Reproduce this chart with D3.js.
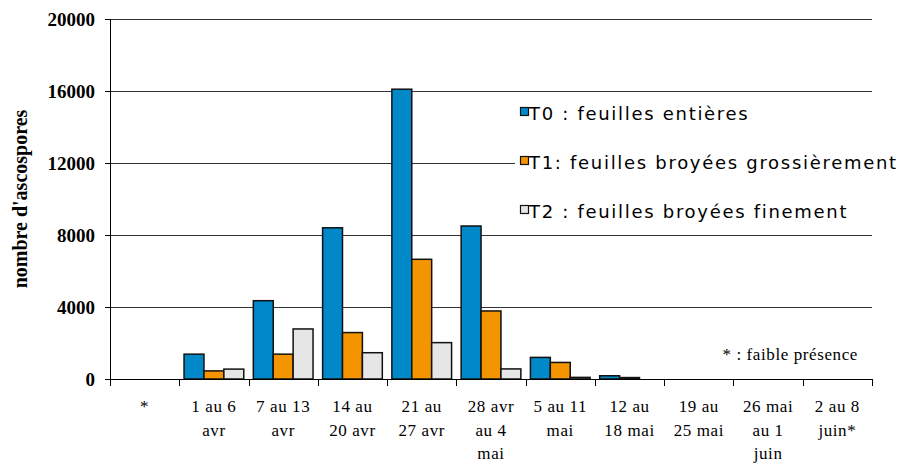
<!DOCTYPE html>
<html>
<head>
<meta charset="utf-8">
<script src="https://cdn.jsdelivr.net/npm/d3@7"></script>
<style>
  body { margin: 0; background: #fff; }
  svg { display: block; }
</style>
</head>
<body>
<div id="chart-area"></div>
<script>
// data
var categories = ["*", "1 au 6|avr", "7 au 13|avr", "14 au|20 avr", "21 au|27 avr",
    "28 avr|au 4|mai", "5 au 11|mai", "12 au|18 mai", "19 au|25 mai", "26 mai|au 1|juin", "2 au 8|juin*"];
var t0 = [0, 1380, 4350, 8400, 16100, 8500, 1200, 180, 0, 0, 0];
var t1 = [0, 450, 1380, 2580, 6650, 3780, 920, 80, 0, 0, 0];
var t2 = [0, 550, 2780, 1460, 2020, 560, 90, 0, 0, 0, 0];
var seriesNames = ["T0 : feuilles entières", "T1: feuilles broyées grossièrement", "T2 : feuilles broyées finement"];
var seriesColors = ["#0088c8", "#f39400", "#e6e6e6"];
var yTicks = [0, 4000, 8000, 12000, 16000, 20000];

var margin = { top: 19, right: 32, bottom: 85, left: 110 },
    width = 904 - margin.left - margin.right,
    height = 464 - margin.top - margin.bottom;

var serif = "'Liberation Serif', 'Times New Roman', serif";

var svg = d3.select("#chart-area")
    .append("svg")
    .attr("width", 904)
    .attr("height", 464);

var g = svg.append("g")
    .attr("transform", "translate(" + margin.left + "," + margin.top + ")");

var x = d3.scaleBand()
    .domain(categories)
    .range([0, width]);

var x1 = d3.scaleBand()
    .domain([0, 1, 2])
    .range([0, x.bandwidth()])
    .paddingInner(0)
    .paddingOuter(0.24);

var y = d3.scaleLinear()
    .domain([0, 20000])
    .range([height, 0]);

// gridlines
g.selectAll(".grid")
    .data(yTicks.slice(1))
    .enter().append("line")
    .attr("x1", 0)
    .attr("x2", width)
    .attr("y1", d => Math.round(y(d)) + 0.5)
    .attr("y2", d => Math.round(y(d)) + 0.5)
    .attr("stroke", "#333")
    .attr("stroke-width", 1);

// y axis
var yAxisCall = d3.axisLeft(y).tickValues(yTicks).tickFormat(d3.format("d")).tickSize(5).tickPadding(10);
var yAxisGroup = g.append("g")
    .attr("class", "y axis")
    .call(yAxisCall);
yAxisGroup.select(".domain").attr("stroke", "#000");
yAxisGroup.selectAll("text")
    .attr("font-family", serif)
    .attr("font-weight", "bold")
    .attr("font-size", "19px")
    .attr("fill", "#000");

// bars
var series = [t0, t1, t2];
var groups = g.selectAll(".cat")
    .data(categories)
    .enter().append("g")
    .attr("transform", d => "translate(" + x(d) + ",0)");

groups.selectAll("rect")
    .data((d, i) => series.map((s, k) => ({ k: k, v: s[i] })).filter(e => e.v > 0))
    .enter().append("rect")
    .attr("x", d => x1(d.k))
    .attr("y", d => y(d.v))
    .attr("width", x1.bandwidth())
    .attr("height", d => height - y(d.v))
    .attr("fill", d => seriesColors[d.k])
    .attr("stroke", "#111")
    .attr("stroke-width", 1.5);

// x axis
var xAxisGroup = g.append("g")
    .attr("class", "x axis")
    .attr("transform", "translate(0," + height + ")");
xAxisGroup.append("line")
    .attr("x1", 0).attr("x2", width)
    .attr("y1", 0.5).attr("y2", 0.5)
    .attr("stroke", "#000");
xAxisGroup.selectAll(".tick")
    .data(d3.range(categories.length + 1))
    .enter().append("line")
    .attr("x1", d => Math.round(d * x.step()) + 0.5)
    .attr("x2", d => Math.round(d * x.step()) + 0.5)
    .attr("y1", 0)
    .attr("y2", 7)
    .attr("stroke", "#000");

var xLabels = xAxisGroup.selectAll(".xlab")
    .data(categories)
    .enter().append("text")
    .attr("text-anchor", "middle")
    .attr("font-family", serif)
    .attr("font-size", "17px")
    .attr("letter-spacing", "0.6px")
    .attr("fill", "#000");
xLabels.each(function(d) {
    var t = d3.select(this);
    d.split("|").forEach((line, i) => {
        t.append("tspan")
            .attr("x", x(d) + x.bandwidth() / 2)
            .attr("y", 33 + i * 23.5)
            .text(line);
    });
});

// y label
g.append("text")
    .attr("transform", "rotate(-90)")
    .attr("x", -(height / 2) + 0)
    .attr("y", -83)
    .attr("text-anchor", "middle")
    .attr("font-family", serif)
    .attr("font-weight", "bold")
    .attr("font-size", "20px")
    .text("nombre d'ascospores");

// note
g.append("text")
    .attr("x", width - 14)
    .attr("y", height - 19)
    .attr("text-anchor", "end")
    .attr("font-family", serif)
    .attr("font-size", "17px")
    .attr("letter-spacing", "0.6px")
    .text("* : faible présence");

// legend
var legend = svg.append("g")
    .attr("transform", "translate(515,95)");
legend.append("rect")
    .attr("x", 0).attr("y", 0)
    .attr("width", 389).attr("height", 133)
    .attr("fill", "#fff");
var items = legend.selectAll(".item")
    .data(seriesNames)
    .enter().append("g")
    .attr("transform", (d, i) => "translate(0," + (i * 49) + ")");
items.append("rect")
    .attr("x", 5.5).attr("y", 12.5)
    .attr("width", 8).attr("height", 8)
    .attr("fill", (d, i) => seriesColors[i])
    .attr("stroke", "#111")
    .attr("stroke-width", 1.2);
items.append("text")
    .attr("x", 14)
    .attr("y", 25)
    .attr("font-family", "'DejaVu Sans', Verdana, sans-serif")
    .attr("font-size", "18px")
    .attr("letter-spacing", "1.7px")
    .attr("fill", "#000")
    .text(d => d);
</script>
</body>
</html>
